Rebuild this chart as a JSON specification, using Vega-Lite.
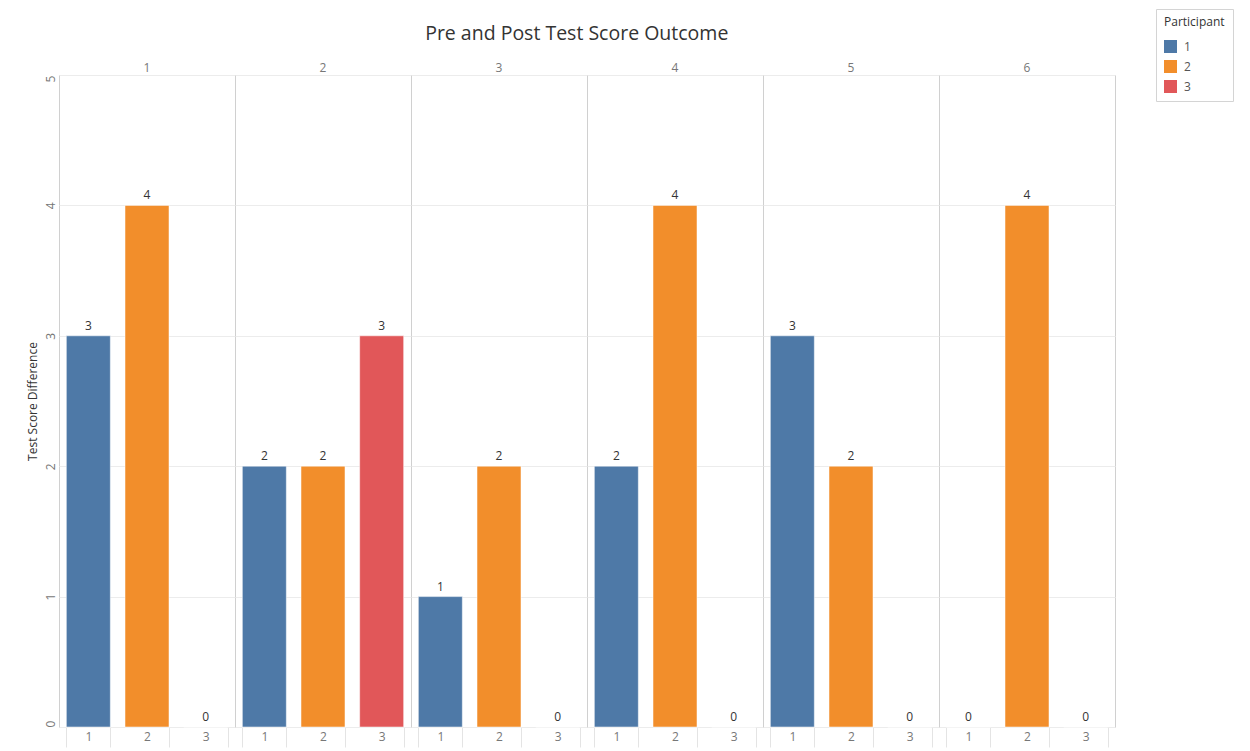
{
  "$schema": "https://vega.github.io/schema/vega-lite/v6.json",
  "padding": {"left": 26, "top": 8, "right": 0, "bottom": 0},
  "background": "white",
  "title": {
    "text": "Pre and Post Test Score Outcome",
    "font": "Open Sans",
    "fontSize": 19.5,
    "fontWeight": "normal",
    "color": "#333333",
    "anchor": "middle",
    "offset": -36,
    "dx": -53
  },
  "data": {
    "values": [
      {"Panel": 1, "Participant": "1", "Score": 3},
      {"Panel": 1, "Participant": "2", "Score": 4},
      {"Panel": 1, "Participant": "3", "Score": 0},
      {"Panel": 2, "Participant": "1", "Score": 2},
      {"Panel": 2, "Participant": "2", "Score": 2},
      {"Panel": 2, "Participant": "3", "Score": 3},
      {"Panel": 3, "Participant": "1", "Score": 1},
      {"Panel": 3, "Participant": "2", "Score": 2},
      {"Panel": 3, "Participant": "3", "Score": 0},
      {"Panel": 4, "Participant": "1", "Score": 2},
      {"Panel": 4, "Participant": "2", "Score": 4},
      {"Panel": 4, "Participant": "3", "Score": 0},
      {"Panel": 5, "Participant": "1", "Score": 3},
      {"Panel": 5, "Participant": "2", "Score": 2},
      {"Panel": 5, "Participant": "3", "Score": 0},
      {"Panel": 6, "Participant": "1", "Score": 0},
      {"Panel": 6, "Participant": "2", "Score": 4},
      {"Panel": 6, "Participant": "3", "Score": 0}
    ]
  },
  "facet": {
    "column": {
      "field": "Panel",
      "type": "ordinal",
      "header": {
        "title": null,
        "labelOrient": "top",
        "labelFont": "Open Sans",
        "labelFontSize": 12,
        "labelColor": "#777777",
        "labelPadding": 0
      }
    }
  },
  "spacing": 0,
  "bounds": "flush",
  "spec": {
    "width": 176,
    "height": 652,
    "encoding": {
      "x": {
        "field": "Participant",
        "type": "nominal",
        "title": null,
        "scale": {"paddingInner": 0.25, "paddingOuter": 0.125},
        "axis": {
          "labelAngle": 0,
          "labelFont": "Open Sans",
          "labelFontSize": 12,
          "labelColor": "#777777",
          "labelPadding": -16,
          "domain": false,
          "tickBand": "extent",
          "tickSize": 20,
          "tickColor": "#e4e4e4"
        }
      },
      "y": {
        "field": "Score",
        "type": "quantitative",
        "title": "Test Score Difference",
        "scale": {"domain": [0, 5], "nice": false},
        "axis": {
          "values": [0, 1, 2, 3, 4, 5],
          "domain": false,
          "ticks": false,
          "gridColor": "#ececec",
          "labelAngle": -90,
          "labelBaseline": "bottom",
          "labelAlign": {
            "condition": [
              {"test": "datum.value == 0", "value": "left"},
              {"test": "datum.value == 5", "value": "right"}
            ],
            "value": "center"
          },
          "labelFont": "Open Sans",
          "labelFontSize": 12,
          "labelColor": "#777777",
          "labelPadding": 2,
          "titleFont": "Open Sans",
          "titleFontSize": 12,
          "titleFontWeight": "normal",
          "titleColor": "#333333",
          "titlePadding": 5
        }
      }
    },
    "layer": [
      {
        "mark": {"type": "bar", "stroke": "#ffffff", "strokeOpacity": 0.5, "strokeWidth": 1},
        "encoding": {
          "color": {
            "field": "Participant",
            "type": "nominal",
            "scale": {"range": ["#4e79a7", "#f28e2b", "#e15759"]},
            "legend": {
              "title": "Participant",
              "orient": "none",
              "legendX": 1097,
              "legendY": -66,
              "symbolType": "square",
              "symbolSize": 169,
              "symbolStrokeWidth": 0,
              "titleFont": "Open Sans",
              "titleFontSize": 12,
              "titleFontWeight": "normal",
              "titleColor": "#333333",
              "titlePadding": 11,
              "labelFont": "Open Sans",
              "labelFontSize": 12,
              "labelColor": "#555555",
              "labelOffset": 7,
              "strokeColor": "#d4d4d4",
              "padding": 8,
              "rowPadding": 7,
              "encode": {
                "entries": {"update": {"width": {"value": 75}}}
              }
            }
          }
        }
      },
      {
        "mark": {"type": "text", "baseline": "bottom", "dy": -3, "font": "Open Sans", "fontSize": 12, "color": "#333333"},
        "encoding": {
          "text": {"field": "Score", "type": "quantitative"}
        }
      }
    ]
  },
  "config": {
    "view": {"stroke": "#d0d0d0", "strokeWidth": 1}
  }
}
